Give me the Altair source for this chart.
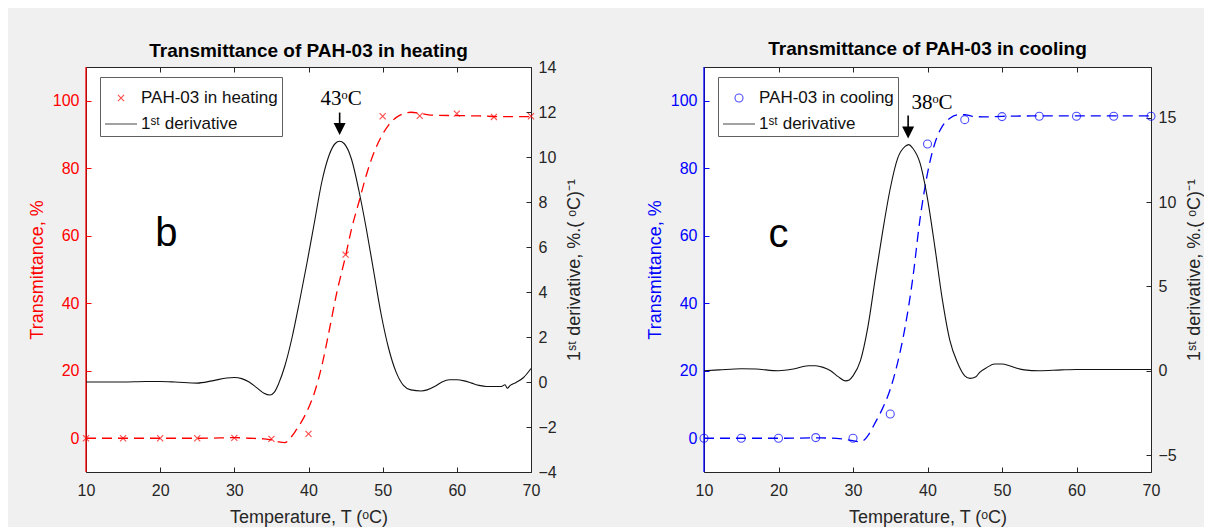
import altair as alt
import pandas as pd

FONT = "Liberation Sans"
RED = "#ff0000"
BLUE = "#0000ff"
DARK = "#262626"
BLACK = "#111111"

# ---------------- data ----------------
marker_T = [10, 15, 20, 25, 30, 35, 40, 45, 50, 55, 60, 65, 70]
heat_marker = [0, 0, 0, 0, 0.1, -0.2, 1.3, 54.4, 95.4, 95.5, 96.2, 95.2, 95.4]
cool_marker = [0, 0, 0, 0.2, 0, 7.2, 87.2, 94.4, 95.3, 95.4, 95.4, 95.4, 95.4]

heat_fit_T = [10, 15, 20, 25, 28, 30, 32, 34, 35, 36, 36.8, 37.6, 38.3, 39, 39.8, 40.8, 41.8,
              42.8, 43.8, 45, 45.8, 46.8, 47.8, 48.8, 49.8, 50.8, 51.8, 52.8, 53.8, 55, 56,
              57, 60, 63, 66, 70]
heat_fit_v = [0, 0, 0, 0, 0.1, 0.2, 0, -0.2, -0.5, -1.1, -1.3, 0.2, 2.3, 4.7, 8.0, 13.5, 21.5,
              32, 43, 54, 62, 70, 78, 84.5, 89.3, 92.8, 95, 96.2, 96.6, 96.3, 95.9,
              95.7, 95.6, 95.5, 95.3, 95.3]

heat_der_T = [10, 12, 15, 18, 20, 22, 25, 27, 29, 30, 31, 32, 33, 34, 34.8, 35.4, 36, 36.8,
              37.8, 38.8, 39.8, 40.8, 41.8, 42.8, 43.6, 44.2, 44.8, 45.8, 46.8, 47.8, 48.8,
              49.8, 50.8, 51.8, 52.8, 53.8, 55.2, 56, 57, 58, 59, 60, 61, 62, 63, 64, 66,
              66.5, 66.8, 67.2, 68, 69, 70]
heat_der_v = [0.0, 0.0, 0.0, 0.02, 0.02, 0.0, -0.05, 0.05, 0.18, 0.2, 0.15, 0.0, -0.25, -0.5,
              -0.58, -0.45, -0.05, 0.7, 2.0, 3.6, 5.3, 7.1, 8.9, 10.1, 10.6, 10.7, 10.6, 9.9,
              8.5, 6.8, 4.9, 3.0, 1.5, 0.45, -0.15, -0.35, -0.4, -0.35, -0.2, 0.0, 0.1, 0.1,
              0.05, -0.05, -0.15, -0.2, -0.2, -0.12, -0.28, -0.15, -0.02, 0.2, 0.6]

cool_fit_T = [10, 15, 20, 25, 27, 28.5, 30, 30.8, 31.5, 32, 33, 34, 35, 36, 37, 38, 39, 40,
              41, 42, 43, 44, 45, 46, 48, 50, 55, 60, 65, 70]
cool_fit_v = [0, 0, 0, 0.1, 0.05, -0.2, -0.7, -1.0, -0.5, 0.8, 4.7, 9, 14.5, 22.5, 33, 47,
              65, 78.5, 87.5, 92.5, 94.8, 95.8, 95.9, 95.4, 95.2, 95.4, 95.5, 95.5, 95.5, 95.5]

cool_der_T = [10, 12, 15, 17, 20, 22, 24, 25, 26, 27, 28, 29, 29.5, 30, 31, 32, 33, 34, 35,
              36, 37, 37.5, 38, 39, 40, 41, 42, 43, 44, 45, 45.7, 46.5, 47, 48, 49, 50, 51,
              52, 53, 55, 58, 60, 65, 70]
cool_der_v = [0, 0.05, 0.12, 0.1, 0.0, 0.1, 0.3, 0.3, 0.2, 0.0, -0.35, -0.6, -0.55, -0.3,
              0.6, 2.6, 5.5, 8.3, 10.8, 12.6, 13.3, 13.4, 13.2, 12.3, 10.2, 7.3, 4.2, 1.8,
              0.5, -0.3, -0.45, -0.35, -0.1, 0.2, 0.4, 0.4, 0.3, 0.15, 0.05, 0.0, 0.05,
              0.07, 0.07, 0.07]

x_ticks = [10, 20, 30, 40, 50, 60, 70]
trans_ticks = [0, 20, 40, 60, 80, 100]
heat_der_ticks = [-4, -2, 0, 2, 4, 6, 8, 10, 12, 14]
cool_der_ticks = [-5, 0, 5, 10, 15]

DERIV_NAME = "1ˢᵗ derivative"
X_PATH = "M-0.19,-0.19L0.19,0.19M-0.19,0.19L0.19,-0.19"
O_PATH = "M-0.25,0A0.25,0.25 0 1,0 0.25,0A0.25,0.25 0 1,0 -0.25,0"
LINE_PATH = "M-1,0L1,0"
HEAD_PATH = "M-1,-1L1,-1L0,1Z"

ONE = pd.DataFrame({"k": [0]})


def panel(color, series_name, marker_path, fit_T, fit_v, mk_v, der_T, der_v,
          der_domain, der_ticks, title, title_offset, width, letter, letter_T, letter_v,
          peak_T, shaft, head_v, lab_text, lab_T, lab_v, legend_x):
    fit_df = pd.DataFrame({"T": fit_T, "v": fit_v})
    mk_df = pd.DataFrame({"T": marker_T, "v": mk_v, "series": series_name})
    der_df = pd.DataFrame({"T": der_T, "d": der_v, "series": DERIV_NAME})

    xs = alt.Scale(domain=[10, 70], nice=False, zero=False)
    x_axis = alt.Axis(values=x_ticks, title="Temperature, T (ᵒC)", orient="bottom",
                      offset=-5, tickSize=5, domain=False, grid=False,
                      labelPadding=10, titlePadding=10, labelFlush=False,
                      tickColor=DARK, labelColor=DARK, titleColor=DARK,
                      labelFont=FONT, labelFontSize=16, titleFont=FONT,
                      titleFontSize=18, titleFontWeight="normal")
    ys = alt.Scale(domain=[-10, 110], nice=False, zero=False)
    y_axis = alt.Axis(values=trans_ticks, title="Transmittance, %", orient="left",
                      offset=-5, tickSize=5, domain=False, grid=False,
                      labelPadding=7, titlePadding=6, labelFlush=False,
                      tickColor=color, labelColor=color, titleColor=color,
                      labelFont=FONT, labelFontSize=16, titleFont=FONT,
                      titleFontSize=18, titleFontWeight="normal")

    cscale = alt.Scale(domain=[series_name, DERIV_NAME], range=[color, BLACK])
    sscale = alt.Scale(domain=[series_name, DERIV_NAME], range=[marker_path, LINE_PATH])
    leg = alt.Legend(title=None, orient="none", legendX=legend_x, legendY=10,
                     fillColor="white", strokeColor="#606060", padding=4,
                     labelFont=FONT, labelFontSize=17, labelColor=BLACK,
                     symbolSize=1024, symbolStrokeWidth=1.1, labelOffset=3,
                     rowPadding=1, cornerRadius=0)

    fit = alt.Chart(fit_df).mark_line(
        color=color, strokeDash=[10, 6], strokeWidth=1.3, interpolate="monotone"
    ).encode(x=alt.X("T:Q", scale=xs, axis=x_axis), y=alt.Y("v:Q", scale=ys, axis=y_axis))

    marks = alt.Chart(mk_df).mark_point(size=1024, filled=False, strokeWidth=1.1).encode(
        x="T:Q", y="v:Q",
        color=alt.Color("series:N", scale=cscale, legend=leg),
        shape=alt.Shape("series:N", scale=sscale, legend=leg),
    )

    edge = alt.Chart(ONE).mark_rule(color=color, strokeWidth=1.3).encode(x=alt.datum(10))

    shaft_m = alt.Chart(ONE).mark_rule(color="black", strokeWidth=1.6).encode(
        x=alt.datum(peak_T), y=alt.datum(shaft[0]), y2=alt.datum(shaft[1]))
    head_m = alt.Chart(ONE).mark_point(
        shape=HEAD_PATH, size=144, filled=True, color="black", opacity=1
    ).encode(x=alt.datum(peak_T), y=alt.datum(head_v))
    lab_m = alt.Chart(ONE).mark_text(
        text=lab_text, font="Liberation Serif", fontSize=21, color="black",
        align="center", baseline="middle"
    ).encode(x=alt.datum(lab_T), y=alt.datum(lab_v))
    letter_m = alt.Chart(ONE).mark_text(
        text=letter, font=FONT, fontSize=40, color="black",
        align="center", baseline="alphabetic"
    ).encode(x=alt.datum(letter_T), y=alt.datum(letter_v))

    layer_a = alt.layer(fit, marks, edge, shaft_m, head_m, lab_m, letter_m)

    x_top = alt.Axis(values=x_ticks, title=None, orient="top", labels=False,
                     offset=-5, tickSize=5, domain=False, grid=False, tickColor=DARK)
    y_right = alt.Axis(values=der_ticks, title="1ˢᵗ derivative, %.( ᵒC)⁻¹", orient="right",
                       offset=-5, tickSize=5, domain=False, grid=False,
                       labelPadding=7, titlePadding=9, labelFlush=False,
                       titleAngle=270, titleBaseline="top",
                       tickColor=DARK, labelColor=DARK, titleColor=DARK,
                       labelFont=FONT, labelFontSize=16, titleFont=FONT,
                       titleFontSize=18, titleFontWeight="normal")
    der = alt.Chart(der_df).mark_line(strokeWidth=1.1, interpolate="monotone").encode(
        x=alt.X("T:Q", scale=alt.Scale(domain=[10, 70], nice=False, zero=False), axis=x_top),
        y=alt.Y("d:Q", scale=alt.Scale(domain=der_domain, nice=False, zero=False), axis=y_right),
        color=alt.Color("series:N", scale=cscale, legend=leg),
    )

    return alt.layer(layer_a, der).resolve_scale(x="independent", y="independent").properties(
        width=width, height=405,
        title=alt.Title(title, font=FONT, fontSize=19, fontWeight="bold", color="black",
                        offset=title_offset, frame="group", anchor="middle"),
    )


left = panel(RED, "PAH-03 in heating", X_PATH, heat_fit_T, heat_fit_v, heat_marker,
             heat_der_T, heat_der_v, [-4, 14], heat_der_ticks,
             "Transmittance of PAH-03 in heating", -2, 445, "b", 20.85, 57,
             44.2, [96.5, 93.0], 91.6, "43ᵒC", 44.4, 100.4, 14)
right = panel(BLUE, "PAH-03 in cooling", O_PATH, cool_fit_T, cool_fit_v, cool_marker,
              cool_der_T, cool_der_v, [-6, 18], cool_der_ticks,
              "Transmittance of PAH-03 in cooling", 7, 447, "c", 20.0, 56.6,
              37.4, [95.6, 92.1], 90.6, "38ᵒC", 40.6, 99.3, 14)

chart = alt.hconcat(left, right, spacing=173, bounds="flush").resolve_scale(
    color="independent", shape="independent"
).resolve_legend(color="independent", shape="independent").properties(
    background="#f0f0f0",
    padding={"left": 19, "top": 31, "right": 0, "bottom": 0},
).configure_view(stroke=DARK, strokeWidth=1, fill="white")

chart.save("out.html", embed_options={"renderer": "svg", "actions": False})
